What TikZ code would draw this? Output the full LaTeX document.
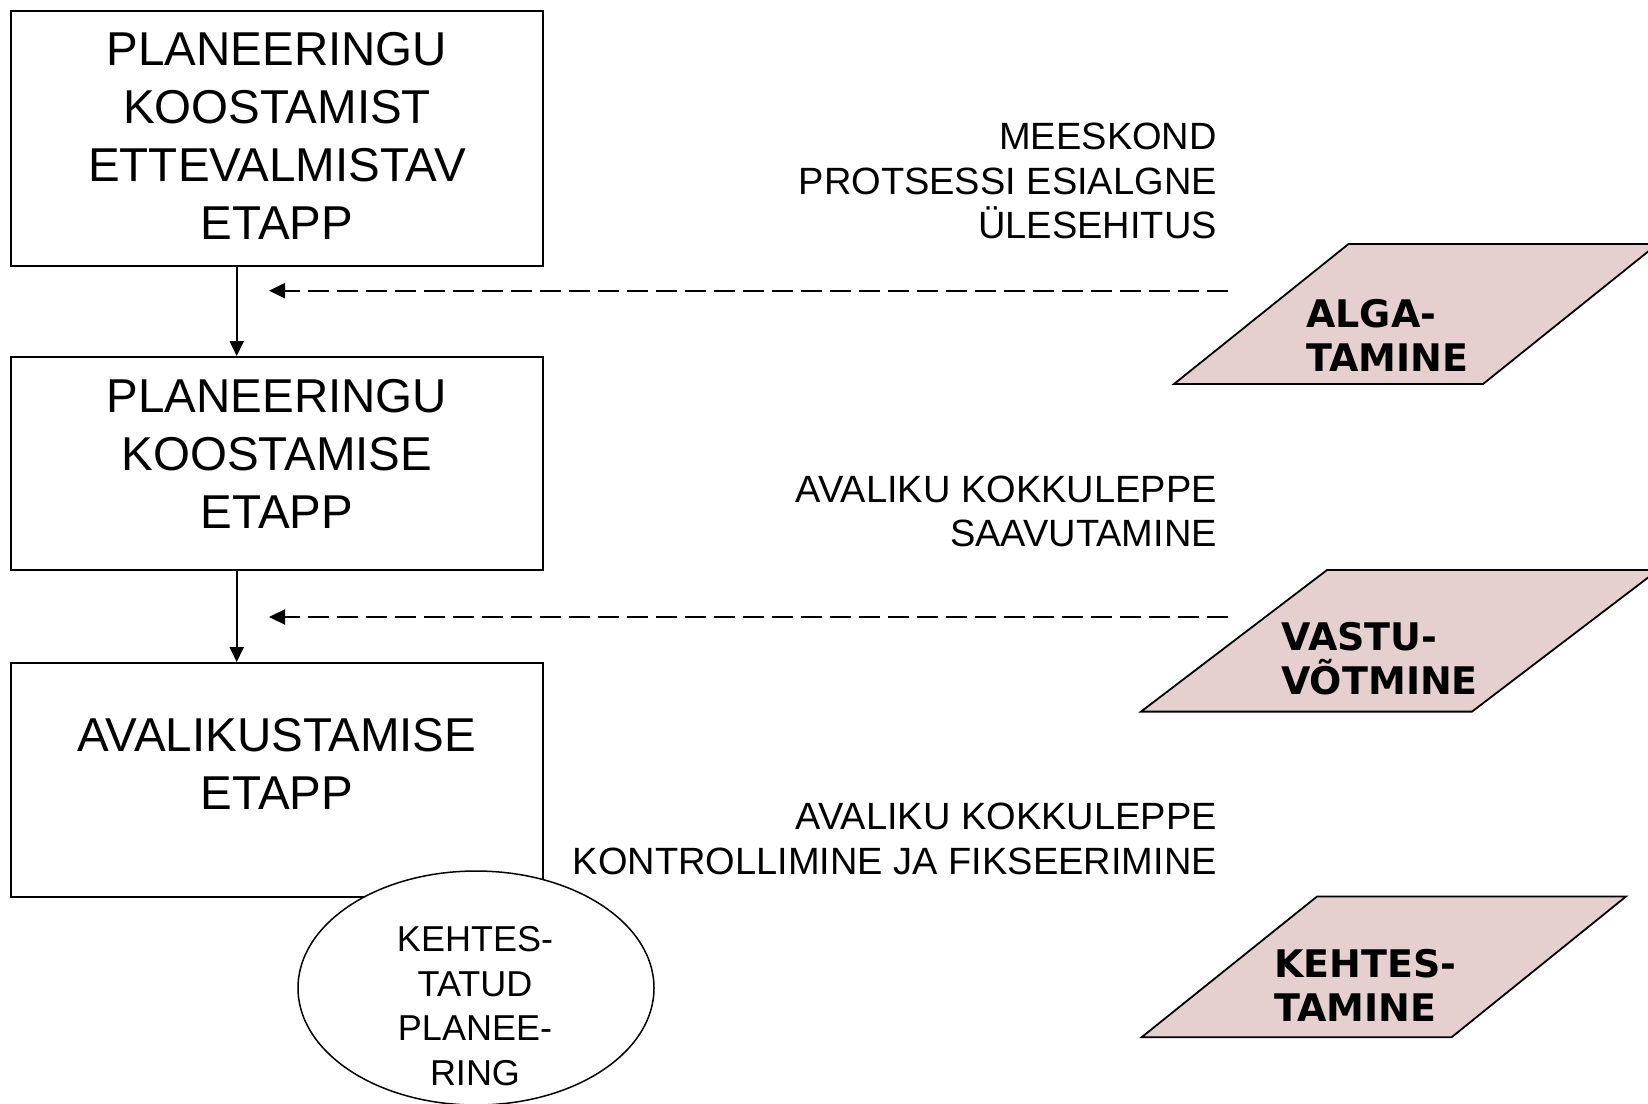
\documentclass[tikz,border=0pt]{standalone}
\usepackage{fontspec}
\setmainfont{Liberation Sans}
\newfontfamily\boldfont{DejaVu Sans}
\usetikzlibrary{arrows.meta,shapes.geometric}
\definecolor{pinkfill}{RGB}{230,207,207}
\begin{document}
\begin{tikzpicture}[x=1pt,y=-1pt,
  box/.style={draw, line width=1.8pt, minimum width=532pt, inner sep=0pt},
  boxtext/.style={font=\fontsize{47.5}{57.8}\selectfont, align=center, inner sep=0pt},
  sidetext/.style={font=\fontsize{38}{44.6}\selectfont, align=right, inner sep=0pt, anchor=east},
  paratext/.style={font=\boldfont\bfseries\fontsize{38}{44}\selectfont, align=left, inner sep=0pt, anchor=west},
  ellipsetext/.style={font=\fontsize{36}{44.8}\selectfont, align=center, inner sep=0pt},
  para/.style={draw, line width=1.8pt, fill=pinkfill, line join=miter},
  flow/.style={line width=1.8pt, -{Triangle[length=15pt,width=14pt]}},
  dashflow/.style={line width=2.2pt, -{Triangle[length=16pt,width=15pt]}, dash pattern=on 21pt off 8pt},
]
\useasboundingbox (0,0) rectangle (1648,1103);
\fill[white] (0,0) rectangle (1648,1103);

% boxes
\node[box, minimum height=255pt] (b1) at (277,138.5) {};
\node[box, minimum height=213pt] (b2) at (277,463.5) {};
\node[box, minimum height=234pt] (b3) at (277,780) {};
\node[boxtext] (t1) at (277,136) {PLANEERINGU\\KOOSTAMIST\\ETTEVALMISTAV\\ETAPP};
\node[boxtext] (t2) at (277,454) {PLANEERINGU\\KOOSTAMISE\\ETAPP};
\node[boxtext] (t3) at (277,764) {AVALIKUSTAMISE\\ETAPP};

% vertical arrows
\coordinate (ax) at (236.7,0);
\draw[flow] (b1.south -| ax) -- (b2.north -| ax);
\draw[flow] (b2.south -| ax) -- (b3.north -| ax);

% dashed arrows
\coordinate (d1s) at (1228,290.7);
\coordinate (d1e) at (269,290.7);
\coordinate (d2s) at (1228,617);
\coordinate (d2e) at (269,617);
\draw[dashflow] (d1s) -- (d1e);
\draw[dashflow] (d2s) -- (d2e);

% side texts
\node[sidetext] (s1) at (1217,181.3) {MEESKOND\\PROTSESSI ESIALGNE\\ÜLESEHITUS};
\node[sidetext] (s2) at (1217,511.3) {AVALIKU KOKKULEPPE\\SAAVUTAMINE};
\node[sidetext] (s3) at (1217,838.7) {AVALIKU KOKKULEPPE\\KONTROLLIMINE JA FIKSEERIMINE};

% parallelograms
\draw[para] (1174,384) -- (1483,384) -- (1657.5,244) -- (1348.5,244) -- cycle;
\draw[para] (1141,711.6) -- (1472,711.6) -- (1658,570) -- (1327,570) -- cycle;
\draw[para] (1141.5,1037.3) -- (1451.5,1037.3) -- (1626,896.5) -- (1317,896.5) -- cycle;
\node[paratext] (p1t) at (1306,335) {ALGA-\\TAMINE};
\node[paratext] (p2t) at (1281,659) {VASTU-\\VÕTMINE};
\node[paratext] (p3t) at (1274,985.4) {KEHTES-\\TAMINE};

% ellipse
\node[draw, ellipse, fill=white, line width=1.5pt, minimum width=356pt, minimum height=234pt, inner sep=0pt] (el) at (476,988) {};
\node[ellipsetext] (elt) at (475,1006) {KEHTES-\\TATUD\\PLANEE-\\RING};
\end{tikzpicture}
\end{document}
